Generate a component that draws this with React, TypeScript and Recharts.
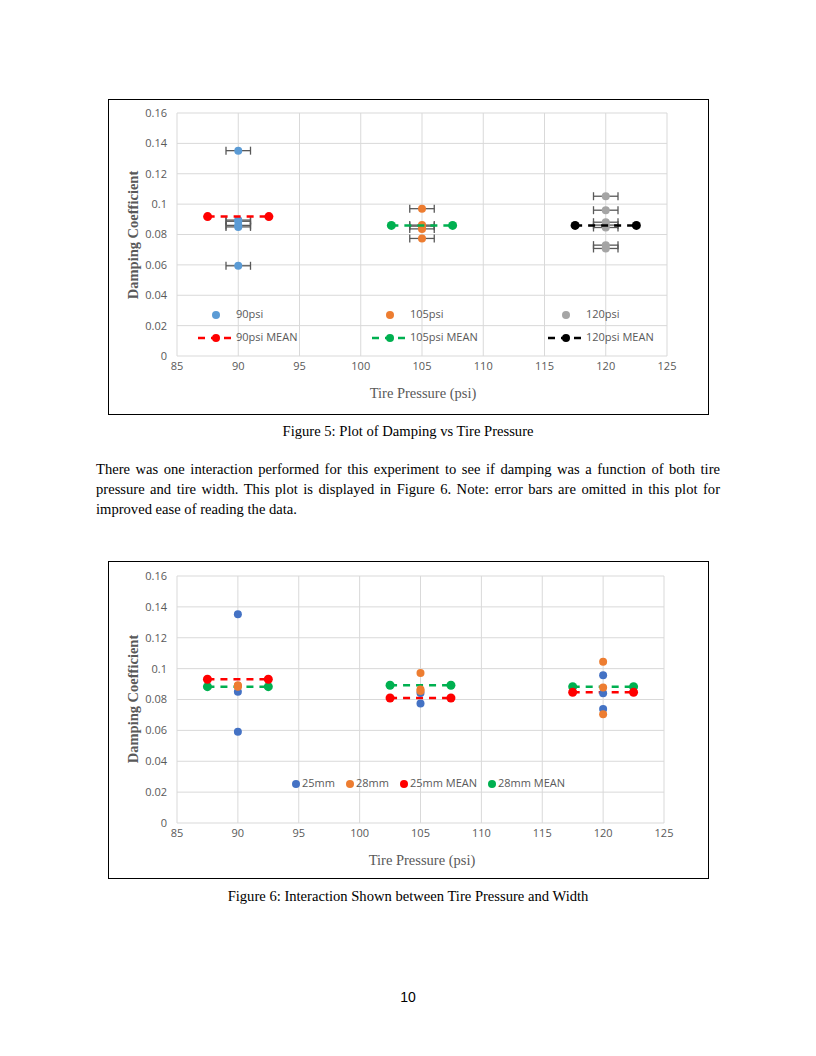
import React from 'react';
import { ScatterChart, Scatter, XAxis, YAxis, CartesianGrid, ErrorBar, Label } from 'recharts';

// ---------- shared axes ----------
const xTicks = [85, 90, 95, 100, 105, 110, 115, 120, 125];
const yTicks = [0, 0.02, 0.04, 0.06, 0.08, 0.1, 0.12, 0.14, 0.16];
const pressures = [90, 105, 120];
const meanHalfWidth = 2.5; // psi
const pressureError = 1; // psi (horizontal error bars)

// ---------- Figure 5 data ----------
const psi90 = [0.1352, 0.0895, 0.0887, 0.086, 0.085, 0.0594];
const psi105 = [0.097, 0.0862, 0.0855, 0.0837, 0.0774];
const psi120 = [0.1052, 0.096, 0.0881, 0.0862, 0.0846, 0.073, 0.0708];
const fig5Means = [0.0918, 0.086, 0.086];

// ---------- Figure 6 data ----------
const w25 = [
  [0.1352, 0.085, 0.0591],
  [0.0842, 0.0774],
  [0.0957, 0.084, 0.0739],
];
const w28 = [
  [0.0892, 0.0887, 0.0882],
  [0.0972, 0.0865, 0.0855],
  [0.1045, 0.0877, 0.0704],
];
const mean25 = [0.0931, 0.081, 0.0847];
const mean28 = [0.0883, 0.0892, 0.0883];

// ---------- text ----------
const paragraphLines = [
  'There was one interaction performed for this experiment to see if damping was a function of both tire',
  'pressure and tire width. This plot is displayed in Figure 6. Note: error bars are omitted in this plot for',
  'improved ease of reading the data.',
];

// ---------- styles ----------
const TICK_FONT = "'Open Sans', 'Liberation Sans', sans-serif";
const SERIF = "'Liberation Serif', 'DejaVu Serif', serif";
const GREY_TEXT = '#595959';
const GRID = '#d9d9d9';

const C = {
  blue5: '#5B9BD5',
  orange: '#ED7D31',
  grey: '#A5A5A5',
  red: '#FF0000',
  green: '#00B050',
  black: '#000000',
  blue6: '#4472C4',
};

const pts = (x: number, ys: number[]) => ys.map((y) => ({ x, y, ex: pressureError }));
const meanSeg = (x: number, y: number) => [
  { x: x - meanHalfWidth, y },
  { x: x + meanHalfWidth, y },
];

const fmtY = (v: number) => (v === 0 ? '0' : String(Number(v.toFixed(2))));

const dot = (fill: string, r: number) => (props: any) => (
  <circle cx={props.cx} cy={props.cy} r={r} fill={fill} />
);

const titleX = (cx: number, cy: number) => () => (
  <text x={cx} y={cy} textAnchor="middle" dominantBaseline="central" fontFamily={SERIF} fontSize={14.5} fill={GREY_TEXT}>
    Tire Pressure (psi)
  </text>
);
const titleY = (cx: number, cy: number) => () => (
  <text
    x={cx}
    y={cy}
    transform={`rotate(-90 ${cx} ${cy})`}
    textAnchor="middle"
    dominantBaseline="central"
    fontFamily={SERIF}
    fontSize={14.5}
    fontWeight={600}
    fill={GREY_TEXT}
  >
    Damping Coefficient
  </text>
);

const tickStyle = { fontFamily: TICK_FONT, fontSize: 11, fill: GREY_TEXT };

// legend helpers
const legendText: React.CSSProperties = {
  fontFamily: TICK_FONT,
  fontSize: 11,
  color: GREY_TEXT,
  whiteSpace: 'nowrap',
  position: 'absolute',
  lineHeight: '14px',
};

function LegendIcon({ color, dashed, left, top }: { color: string; dashed: boolean; left: number; top: number }) {
  return (
    <svg style={{ position: 'absolute', left: left - 20, top: top - 6 }} width={40} height={12}>
      {dashed && <line x1={2} x2={36} y1={6} y2={6} stroke={color} strokeWidth={2.5} strokeDasharray="7 6" />}
      <circle cx={20} cy={6} r={4} fill={color} />
    </svg>
  );
}

const fig5Legend = [
  { label: '90psi', color: C.blue5, dashed: false, mx: 107, my: 215 },
  { label: '105psi', color: C.orange, dashed: false, mx: 281, my: 215 },
  { label: '120psi', color: C.grey, dashed: false, mx: 457, my: 215 },
  { label: '90psi MEAN', color: C.red, dashed: true, mx: 107, my: 238 },
  { label: '105psi MEAN', color: C.green, dashed: true, mx: 281, my: 238 },
  { label: '120psi MEAN', color: C.black, dashed: true, mx: 457, my: 238 },
];

const fig6Legend = [
  { label: '25mm', color: C.blue6, mx: 187 },
  { label: '28mm', color: C.orange, mx: 241 },
  { label: '25mm MEAN', color: C.red, mx: 295 },
  { label: '28mm MEAN', color: C.green, mx: 383 },
];

function Figure5() {
  const W = 599;
  const H = 314;
  const margin = { top: 13, right: 41, left: 18, bottom: 28 };
  const meanColors = [C.red, C.green, C.black];
  const seriesColors = [C.blue5, C.orange, C.grey];
  const series = [psi90, psi105, psi120];
  return (
    <div style={{ position: 'absolute', left: 108, top: 99, width: 601, height: 316, boxSizing: 'border-box', border: '1px solid #000', background: '#fff' }}>
      <ScatterChart width={W} height={H} margin={margin}>
        <CartesianGrid stroke={GRID} strokeWidth={1} />
        <XAxis
          type="number"
          dataKey="x"
          domain={[85, 125]}
          ticks={xTicks}
          axisLine={false}
          tickLine={false}
          tick={tickStyle}
          tickMargin={0}
          height={30}
          interval={0}
        >
          <Label content={titleX(314, 293)} />
        </XAxis>
        <YAxis
          type="number"
          dataKey="y"
          domain={[0, 0.16]}
          ticks={yTicks}
          axisLine={false}
          tickLine={false}
          tick={tickStyle}
          tickFormatter={fmtY}
          tickMargin={4}
          width={50}
          interval={0}
        >
          <Label content={titleY(24, 135)} />
        </YAxis>
        {series.map((ys, i) => (
          <Scatter key={'s' + i} data={pts(pressures[i], ys)} fill={seriesColors[i]} shape={dot(seriesColors[i], 4)} isAnimationActive={false}>
            <ErrorBar dataKey="ex" direction="x" width={4} stroke="#595959" strokeWidth={1.3} />
          </Scatter>
        ))}
        {fig5Means.map((m, i) => (
          <Scatter
            key={'m' + i}
            data={meanSeg(pressures[i], m)}
            fill={meanColors[i]}
            shape={dot(meanColors[i], 4.5)}
            line={{ stroke: meanColors[i], strokeWidth: 2.5, strokeDasharray: '7 6' }}
            isAnimationActive={false}
          />
        ))}
      </ScatterChart>
      {fig5Legend.map((e) => (
        <React.Fragment key={e.label}>
          <LegendIcon color={e.color} dashed={e.dashed} left={e.mx} top={e.my} />
          <div style={{ ...legendText, left: e.mx + 20, top: e.my - 8 }}>{e.label}</div>
        </React.Fragment>
      ))}
    </div>
  );
}

function Figure6() {
  const W = 599;
  const H = 316;
  const margin = { top: 14, right: 44, left: 18, bottom: 25 };
  return (
    <div style={{ position: 'absolute', left: 108, top: 561, width: 601, height: 318, boxSizing: 'border-box', border: '1px solid #000', background: '#fff' }}>
      <ScatterChart width={W} height={H} margin={margin}>
        <CartesianGrid stroke={GRID} strokeWidth={1} />
        <XAxis
          type="number"
          dataKey="x"
          domain={[85, 125]}
          ticks={xTicks}
          axisLine={false}
          tickLine={false}
          tick={tickStyle}
          tickMargin={0}
          height={30}
          interval={0}
        >
          <Label content={titleX(313, 298)} />
        </XAxis>
        <YAxis
          type="number"
          dataKey="y"
          domain={[0, 0.16]}
          ticks={yTicks}
          axisLine={false}
          tickLine={false}
          tick={tickStyle}
          tickFormatter={fmtY}
          tickMargin={4}
          width={50}
          interval={0}
        >
          <Label content={titleY(24, 137)} />
        </YAxis>
        {pressures.map((p, i) => (
          <Scatter key={'m28' + i} data={meanSeg(p, mean28[i])} fill={C.green} shape={dot(C.green, 4.5)}
            line={{ stroke: C.green, strokeWidth: 2.5, strokeDasharray: '7 6' }} isAnimationActive={false} />
        ))}
        {pressures.map((p, i) => (
          <Scatter key={'m25' + i} data={meanSeg(p, mean25[i])} fill={C.red} shape={dot(C.red, 4.5)}
            line={{ stroke: C.red, strokeWidth: 2.5, strokeDasharray: '7 6' }} isAnimationActive={false} />
        ))}
        {pressures.map((p, i) => (
          <Scatter key={'b' + i} data={pts(p, w25[i])} fill={C.blue6} shape={dot(C.blue6, 4)} isAnimationActive={false} />
        ))}
        {pressures.map((p, i) => (
          <Scatter key={'o' + i} data={pts(p, w28[i])} fill={C.orange} shape={dot(C.orange, 4)} isAnimationActive={false} />
        ))}
      </ScatterChart>
      {fig6Legend.map((e) => (
        <React.Fragment key={e.label}>
          <svg style={{ position: 'absolute', left: e.mx - 5, top: 217 }} width={10} height={10}>
            <circle cx={5} cy={5} r={4} fill={e.color} />
          </svg>
          <div style={{ ...legendText, left: e.mx + 6, top: 214 }}>{e.label}</div>
        </React.Fragment>
      ))}
    </div>
  );
}

const bodyText: React.CSSProperties = {
  fontFamily: "'Liberation Serif', 'Times New Roman', serif",
  fontSize: 14.6,
  color: '#000',
};

export default function App() {
  return (
    <div style={{ position: 'absolute', left: 0, top: 0, width: 816, height: 1056, background: '#fff' }}>
      <Figure5 />
      <div style={{ ...bodyText, position: 'absolute', left: 0, width: 816, top: 422, textAlign: 'center', lineHeight: '18px' }}>
        Figure 5: Plot of Damping vs Tire Pressure
      </div>
      {paragraphLines.map((line, i) => (
        <div
          key={i}
          style={{
            ...bodyText,
            position: 'absolute',
            left: 96,
            width: 624,
            top: 459 + i * 20,
            lineHeight: '20px',
            whiteSpace: 'nowrap',
            textAlign: i < paragraphLines.length - 1 ? 'justify' : 'left',
            textAlignLast: i < paragraphLines.length - 1 ? 'justify' : 'left',
          }}
        >
          {line}
        </div>
      ))}
      <Figure6 />
      <div style={{ ...bodyText, position: 'absolute', left: 0, width: 816, top: 887, textAlign: 'center', lineHeight: '18px' }}>
        Figure 6: Interaction Shown between Tire Pressure and Width
      </div>
      <div style={{ position: 'absolute', left: 0, width: 816, top: 988, textAlign: 'center', fontFamily: "'Liberation Sans', Arial, sans-serif", fontSize: 14, lineHeight: '18px' }}>
        10
      </div>
    </div>
  );
}
